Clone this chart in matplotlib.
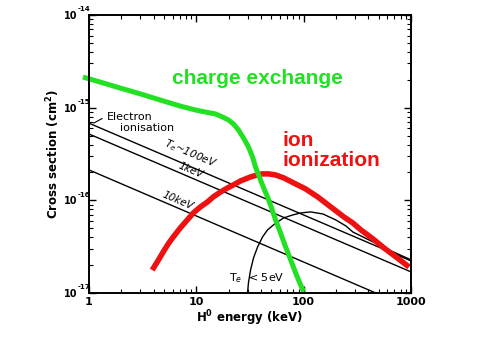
import numpy as np
import matplotlib
matplotlib.use('Agg')
import matplotlib.pyplot as plt

# charge exchange cross section (keV, cm^2)
cx_E = [0.879, 1.27, 1.95, 3.00, 4.61, 7.09, 9.79, 12.1, 15.1, 17.5, 19.9, 22.2, 24.7,
        27.5, 30.6, 33.4, 35.6, 38.0, 39.6, 43.2, 46.1, 50.2, 54.7, 60.9, 67.9, 75.6,
        84.2, 91.8, 100]
cx_sig = [2.14e-15, 1.89e-15, 1.63e-15, 1.41e-15, 1.21e-15, 1.04e-15, 9.45e-16, 8.99e-16,
          8.55e-16, 7.94e-16, 7.37e-16, 6.67e-16, 5.74e-16, 4.71e-16, 3.77e-16, 2.94e-16,
          2.29e-16, 1.88e-16, 1.66e-16, 1.29e-16, 1.09e-16, 8.28e-17, 6.15e-17, 4.45e-17,
          3.14e-17, 2.28e-17, 1.65e-17, 1.29e-17, 1.03e-17]

# ion impact ionisation
ii_E = [3.88, 4.32, 4.91, 5.47, 6.10, 7.09, 8.24, 9.37, 10.9, 12.7, 14.4, 16.8, 19.5,
        22.2, 25.8, 32.0, 37.2, 41.4, 47.1, 54.7, 65.0, 80.7, 104, 135, 179, 237, 287,
        341, 442, 559, 725, 958]
ii_sig = [1.77e-17, 2.16e-17, 2.77e-17, 3.39e-17, 4.03e-17, 5.04e-17, 6.15e-17, 7.31e-17,
          8.49e-17, 9.61e-17, 1.09e-16, 1.23e-16, 1.36e-16, 1.47e-16, 1.62e-16, 1.79e-16,
          1.88e-16, 1.93e-16, 1.93e-16, 1.88e-16, 1.75e-16, 1.54e-16, 1.33e-16, 1.09e-16,
          8.49e-17, 6.62e-17, 5.70e-17, 4.80e-17, 3.84e-17, 3.07e-17, 2.45e-17, 1.91e-17]

# electron ionisation, straight lines for fixed Te
e100_E, e100_sig = [1, 1000], [6.8e-16, 2.22e-17]
e1k_E, e1k_sig = [1, 1000], [5.2e-16, 1.69e-17]
e10k_E, e10k_sig = [1, 470], [2.13e-16, 1.0e-17]

# Te < 5 eV curve
e5_E = [30.0, 30.6, 32.0, 34.1, 37.2, 41.4, 46.1, 53.6, 65.0, 78.9, 93.7, 116, 151,
        199, 247, 287, 356, 442, 650, 1000]
e5_sig = [1.0e-17, 1.29e-17, 1.77e-17, 2.39e-17, 3.14e-17, 4.03e-17, 4.80e-17, 5.56e-17,
          6.46e-17, 6.95e-17, 7.31e-17, 7.50e-17, 7.13e-17, 6.15e-17, 5.30e-17, 4.56e-17,
          4.03e-17, 3.56e-17, 2.85e-17, 2.28e-17]

xticks = [1, 10, 100, 1000]
xtick_labels = ['1', '10', '100', '1000']
yticks = [1e-17, 1e-16, 1e-15, 1e-14]
ytick_exps = ['-17', '-16', '-15', '-14']

fig = plt.figure(figsize=(5, 3.38), dpi=100)
ax = fig.add_axes([0.178, 0.1331, 0.644, 0.8225])
ax.set_xscale('log')
ax.set_yscale('log')
ax.set_xlim(1, 1000)
ax.set_ylim(1e-17, 1e-14)

k = dict(color='black', lw=1.0)
ax.plot(e100_E, e100_sig, **k)
ax.plot(e1k_E, e1k_sig, **k)
ax.plot(e10k_E, e10k_sig, **k)
ax.plot(e5_E, e5_sig, **k)

ax.plot(ii_E, ii_sig, color='#ee1111', lw=4.0, solid_capstyle='butt')
ax.plot(cx_E, cx_sig, color='#22e022', lw=3.6, solid_capstyle='butt', clip_on=False)

ax.set_xticks(xticks)
ax.set_xticklabels(xtick_labels, fontweight='bold', fontsize=8)
# y labels: "10" with a small exponent set above to its right
ax.set_yticks(yticks)
ax.set_yticklabels(['10'] * len(yticks), fontweight='bold', fontsize=7)
for v, e in zip(yticks, ytick_exps):
    ax.annotate(e, xy=(0, v), xycoords=('axes fraction', 'data'),
                xytext=(-8.2, 4), textcoords='offset points',
                fontsize=5, fontweight='bold', ha='left', va='center')
ax.tick_params(which='both', direction='in', top=True, right=True)
ax.tick_params(which='major', length=5, width=1.0)
ax.tick_params(which='minor', length=3, width=0.8)
ax.tick_params(axis='x', pad=3)
ax.tick_params(axis='y', pad=8.6)
for s in ax.spines.values():
    s.set_linewidth(1.4)

ax.text(-0.11, 0.5, 'Cross section (cm$^{\\mathbf{2}}$)', transform=ax.transAxes,
        rotation=90, ha='center', va='center', fontsize=8.5, fontweight='bold')
ax.text(0.5, -0.09, 'H$^{\\mathbf{0}}$ energy (keV)', transform=ax.transAxes,
        ha='center', va='center', fontsize=8.5, fontweight='bold')

# curve labels
ax.text(1.47, 7.9e-16, 'Electron', fontsize=8, ha='left', va='center')
ax.text(1.95, 6.0e-16, 'ionisation', fontsize=8, ha='left', va='center')
ax.annotate('', xy=(1.05, 6.6e-16), xytext=(1.4, 7.9e-16),
            arrowprops=dict(arrowstyle='-', lw=0.8, color='black'))
ax.text(8.78, 3.17e-16, 'T$_e$~100eV', fontsize=7.5, style='italic',
        rotation=-23, ha='center', va='center')
ax.text(8.78, 2.13e-16, '1keV', fontsize=7.5, style='italic',
        rotation=-23, ha='center', va='center')
ax.text(6.64, 9.86e-17, '10keV', fontsize=7.5, style='italic',
        rotation=-23, ha='center', va='center')
ax.text(36.3, 1.46e-17, 'T$_e$  < 5eV', fontsize=8, ha='center', va='center')

fig.text(172 / 500, 1 - 78 / 338, 'charge exchange', color='#22e022',
         fontsize=15, fontweight='bold', family='Liberation Sans', ha='left', va='center')
fig.text(283 / 500, 1 - 140 / 338, 'ion', color='#ee1111',
         fontsize=15, fontweight='bold', family='Liberation Sans', ha='left', va='center')
fig.text(283 / 500, 1 - 161 / 338, 'ionization', color='#ee1111',
         fontsize=15, fontweight='bold', family='Liberation Sans', ha='left', va='center')

fig.savefig('out.png', dpi=100)
